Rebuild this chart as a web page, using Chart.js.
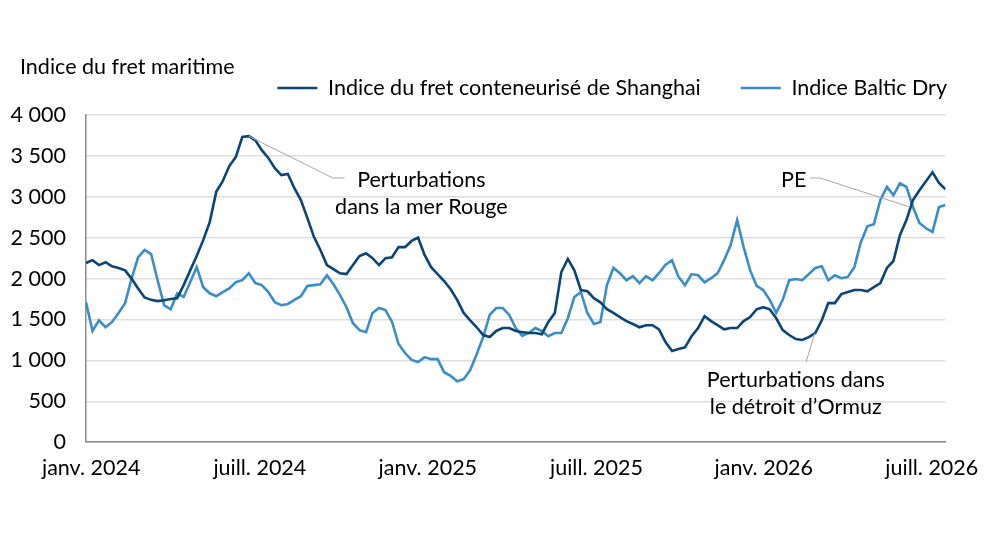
<!DOCTYPE html>
<html lang="fr">
<head>
<meta charset="utf-8">
<title>Indice du fret maritime</title>
<script src="https://cdn.jsdelivr.net/npm/chart.js@4.4.1/dist/chart.umd.min.js"></script>
<style>
  html, body { margin: 0; padding: 0; background: #fff; }
  #wrap { width: 992px; height: 558px; }
</style>
</head>
<body>
<div id="wrap"><canvas id="c" width="992" height="558"></canvas></div>
<script>
// weekly observations, janv. 2024 -> juill. 2026
const shanghai = [
  2190, 2225, 2165, 2200, 2150, 2130, 2100, 2000, 1880, 1770,
  1740, 1725, 1735, 1750, 1760, 1920, 2100, 2275, 2470, 2690,
  3060, 3190, 3375, 3485, 3730, 3740, 3690, 3570, 3475, 3350,
  3265, 3280, 3105, 2960, 2740, 2510, 2350, 2165, 2115, 2065,
  2055, 2165, 2275, 2310, 2250, 2165, 2250, 2260, 2385, 2385,
  2460, 2500, 2290, 2140, 2055, 1970, 1870, 1740, 1580, 1490,
  1405, 1310, 1285, 1360, 1395, 1395, 1360, 1345, 1335, 1335,
  1320, 1470, 1580, 2080, 2240, 2100, 1860, 1845, 1760, 1710,
  1625, 1580, 1530, 1480, 1445, 1405, 1430, 1430, 1380, 1225,
  1115, 1140, 1160, 1295, 1395, 1540, 1480, 1430, 1380, 1395,
  1395, 1480, 1530, 1625, 1650, 1625, 1515, 1370, 1310, 1260,
  1250, 1285, 1335, 1490, 1700, 1700, 1810, 1835, 1860, 1860,
  1845, 1895, 1945, 2130, 2215, 2530, 2715, 2960, 3080, 3190,
  3300, 3170, 3090
];
const balticDry = [
  1710, 1360, 1490, 1405, 1470, 1580, 1700, 2000, 2260, 2350,
  2300, 1980, 1675, 1625, 1820, 1775, 1955, 2140, 1895, 1820,
  1785, 1835, 1880, 1955, 1980, 2065, 1945, 1920, 1835, 1710,
  1675, 1690, 1740, 1785, 1910, 1920, 1930, 2040, 1930, 1800,
  1650, 1455, 1370, 1345, 1580, 1640, 1615, 1470, 1200, 1090,
  1005, 980, 1040, 1015, 1015, 855, 810, 745, 770, 880,
  1075, 1285, 1555, 1640, 1640, 1555, 1395, 1300, 1335, 1395,
  1360, 1295, 1335, 1335, 1515, 1775, 1835, 1580, 1445, 1470,
  1920, 2130, 2065, 1980, 2030, 1945, 2030, 1980, 2065, 2170,
  2225, 2020, 1920, 2055, 2040, 1955, 2005, 2065, 2225, 2410,
  2715, 2385, 2100, 1910, 1860, 1740, 1580, 1740, 1980, 1995,
  1980, 2055, 2130, 2150, 1980, 2040, 2005, 2020, 2140, 2445,
  2640, 2665, 2960, 3120, 3020, 3165, 3120, 2875, 2680, 2615,
  2570, 2875, 2900
];
const tickWeeks = [0.8, 26.7, 52.5, 78.4, 104.1, 129.9];
const tickLabels = ['janv. 2024', 'juill. 2024', 'janv. 2025', 'juill. 2025', 'janv. 2026', 'juill. 2026'];
const yTicks = [0, 500, 1000, 1500, 2000, 2500, 3000, 3500, 4000];

const FONT = "Lato, 'Noto Sans', sans-serif";
const FS = 21.5;
const DARK = '#0c4573';
const LIGHT = '#3a8dc5';

// annotations: text anchor and leader path in (week, value) units
const notes = [
  { lines: ['Perturbations', 'dans la mer Rouge'], at: [51.5, 3205], dy: 27,
    path: [[25, 3740], [37.9, 3230], [39.7, 3230]] },
  { lines: ['PE'], at: [108.7, 3205], dy: 27,
    path: [[111.2, 3230], [112.7, 3230], [126.5, 2875]] },
  { lines: ['Perturbations dans', 'le détroit d\u2019Ormuz'], at: [109.0, 760], dy: 27,
    path: [[110.6, 980], [111.9, 1330]] }
];

const notePlugin = {
  id: 'notes',
  afterDatasetsDraw(chart) {
    const { ctx, scales: { x, y } } = chart;
    ctx.save();
    ctx.strokeStyle = '#a6a6a6';
    ctx.lineWidth = 1;
    notes.forEach(n => {
      ctx.beginPath();
      n.path.forEach((p, i) => {
        const px = x.getPixelForValue(p[0]), py = y.getPixelForValue(p[1]);
        if (i === 0) ctx.moveTo(px, py); else ctx.lineTo(px, py);
      });
      ctx.stroke();
    });
    ctx.fillStyle = '#000';
    ctx.font = FS + 'px ' + FONT;
    ctx.textAlign = 'center';
    ctx.textBaseline = 'middle';
    notes.forEach(n => {
      const cx = x.getPixelForValue(n.at[0]);
      const cy = y.getPixelForValue(n.at[1]);
      n.lines.forEach((t, i) => ctx.fillText(t, cx, cy + i * n.dy));
    });
    // axis title, top left
    ctx.textAlign = 'left';
    ctx.fillText('Indice du fret maritime', 20, 67);
    ctx.restore();
  }
};

new Chart(document.getElementById('c'), {
  type: 'line',
  data: {
    datasets: [
      {
        label: 'Indice du fret conteneurisé de Shanghai',
        data: shanghai.map((v, i) => ({ x: i, y: v })),
        borderColor: DARK,
        backgroundColor: DARK,
        borderWidth: 2.6,
        pointRadius: 0,
        tension: 0
      },
      {
        label: 'Indice Baltic Dry',
        data: balticDry.map((v, i) => ({ x: i, y: v })),
        borderColor: LIGHT,
        backgroundColor: LIGHT,
        borderWidth: 2.6,
        pointRadius: 0,
        tension: 0
      }
    ]
  },
  options: {
    responsive: false,
    animation: false,
    layout: { padding: { left: 0, right: 5, top: 37.25, bottom: 64 } },
    plugins: {
      // empty spacer between legend and plot
      subtitle: {
        display: true,
        text: ' ',
        weight: 500,
        font: { size: 1 },
        padding: { top: 5, bottom: 0 }
      },
      legend: {
        position: 'top',
        align: 'end',
        labels: {
          color: '#000',
          font: { family: FONT, size: FS },
          usePointStyle: true,
          pointStyle: 'line',
          pointStyleWidth: 40,
          padding: 40
        }
      },
      tooltip: { enabled: false }
    },
    scales: {
      x: {
        type: 'linear',
        min: 0,
        max: shanghai.length - 1,
        afterBuildTicks: s => { s.ticks = tickWeeks.map(v => ({ value: v })); },
        ticks: {
          autoSkip: false,
          maxRotation: 0,
          color: '#000',
          padding: 13,
          font: { family: FONT, size: FS },
          callback: (v, i) => tickLabels[i]
        },
        grid: { display: false, drawTicks: false },
        border: { color: '#8c8c8c', width: 1.5 }
      },
      y: {
        min: 0,
        max: 4000,
        afterBuildTicks: s => { s.ticks = yTicks.map(v => ({ value: v })); },
        afterFit: s => { s.width = 86; },
        ticks: {
          color: '#000',
          padding: 20,
          font: { family: FONT, size: FS },
          callback: v => String(v).replace(/\B(?=(\d{3})+(?!\d))/g, ' ')
        },
        grid: { color: '#dedede', lineWidth: 1.5, drawTicks: false },
        border: { color: '#8c8c8c', width: 1.5 }
      },
      // blank right margin so the legend can run past the plot edge
      yRight: {
        position: 'right',
        display: true,
        afterFit: s => { s.width = 40; },
        ticks: { display: false },
        grid: { display: false, drawTicks: false },
        border: { display: false }
      }
    }
  },
  plugins: [notePlugin]
});
</script>
</body>
</html>
